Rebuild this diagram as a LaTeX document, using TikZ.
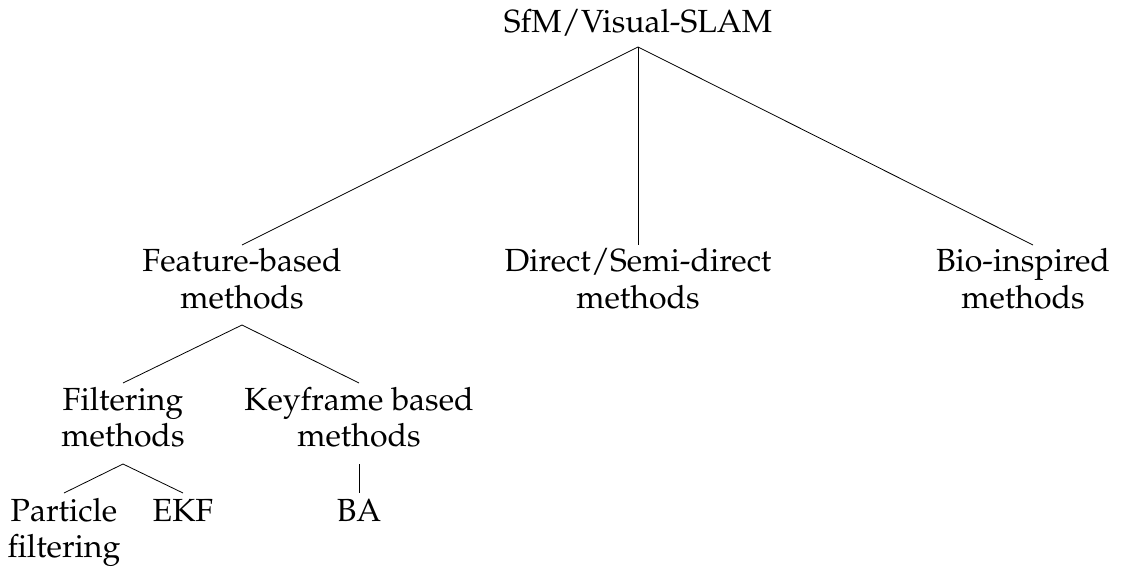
\documentclass[tikz,border=0pt]{standalone}
\usepackage[T1]{fontenc}
\usepackage{mathpazo}
\begin{document}
\begin{tikzpicture}[x=1pt,y=-1pt,
  tnode/.style={inner sep=0pt,align=center,anchor=base,
    font=\fontsize{32}{36}\selectfont},
  branch/.style={line width=0.8pt}]
\useasboundingbox (0,0) rectangle (1126,569);
% tree nodes, placed at the baseline of their last line
\node[tnode] (root) at (638,33) {SfM/Visual-SLAM};
\node[tnode] (feat) at (242,308) {Feature-based\\methods};
\node[tnode] (direct) at (638,308) {Direct/Semi-direct\\methods};
\node[tnode] (bio) at (1023,308) {Bio-inspired\\methods};
\node[tnode] (filt) at (123,446) {Filtering\\methods};
\node[tnode] (key) at (359,446) {Keyframe based\\methods};
\node[tnode] (part) at (64,557) {Particle\\filtering};
\node[tnode] (ekf) at (183,521) {EKF};
\node[tnode] (ba) at (359,521) {BA};
% branches: from below a parent to above the first line of a child
\draw[branch] ([yshift=-14pt]root.base) -- ([yshift=63pt]feat.base);
\draw[branch] ([yshift=-14pt]root.base) -- ([yshift=63pt]direct.base);
\draw[branch] ([yshift=-14pt]root.base) -- ([xshift=10pt,yshift=63pt]bio.base);
\draw[branch] ([yshift=-17pt]feat.base) -- ([yshift=63pt]filt.base);
\draw[branch] ([yshift=-17pt]feat.base) -- ([yshift=63pt]key.base);
\draw[branch] ([yshift=-18pt]filt.base) -- ([yshift=64pt]part.base);
\draw[branch] ([yshift=-18pt]filt.base) -- ([yshift=28pt]ekf.base);
\draw[branch] ([yshift=-18pt]key.base) -- ([yshift=28pt]ba.base);
\end{tikzpicture}
\end{document}
